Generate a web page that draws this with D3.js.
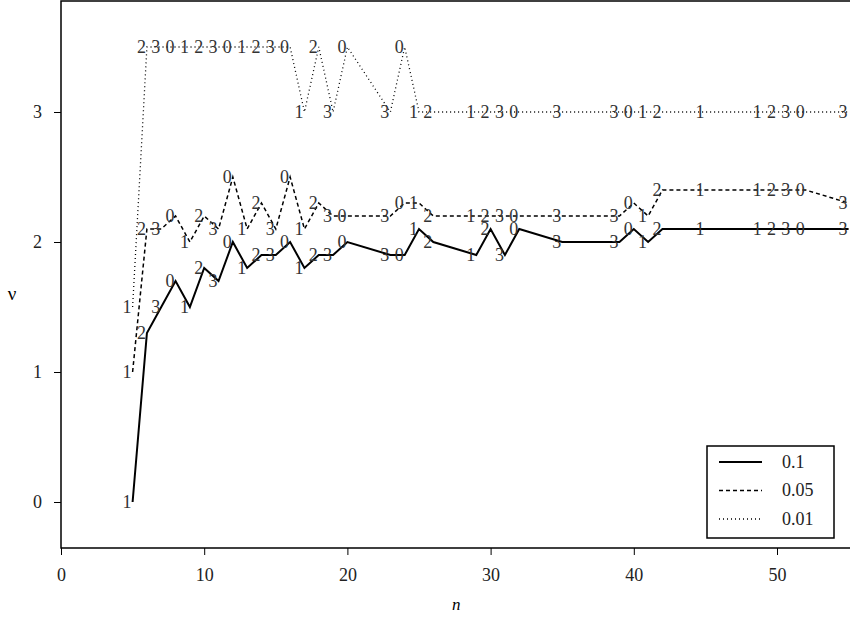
<!DOCTYPE html>
<html lang="en">
<head>
<meta charset="UTF-8">
<title>nu vs n</title>
<script src="https://d3js.org/d3.v7.min.js"></script>
<style>
  body { margin: 0; background: #fff; }
  svg text { font-family: "Liberation Serif", "Times New Roman", "DejaVu Serif", serif; }
</style>
</head>
<body>
<svg width="850" height="619"></svg>
<script>
// n values where the curves have a vertex (same for all three levels)
const nVals = [5, 6, 7, 8, 9, 10, 11, 12, 13, 14, 15, 16, 17, 18, 19, 20,
               23, 24, 25, 26, 29, 30, 31, 32, 35, 39, 40, 41, 42, 45, 49, 50, 51, 52, 55];

// nu for alpha = 0.1
const nu10 = [0, 1.3, 1.5, 1.7, 1.5, 1.8, 1.7, 2.0, 1.8, 1.9, 1.9, 2.0, 1.8, 1.9, 1.9, 2.0,
              1.9, 1.9, 2.1, 2.0, 1.9, 2.1, 1.9, 2.1, 2.0, 2.0, 2.1, 2.0, 2.1, 2.1, 2.1, 2.1, 2.1, 2.1, 2.1];
// nu for alpha = 0.05
const nu05 = [1.0, 2.1, 2.1, 2.2, 2.0, 2.2, 2.1, 2.5, 2.1, 2.3, 2.1, 2.5, 2.1, 2.3, 2.2, 2.2,
              2.2, 2.3, 2.3, 2.2, 2.2, 2.2, 2.2, 2.2, 2.2, 2.2, 2.3, 2.2, 2.4, 2.4, 2.4, 2.4, 2.4, 2.4, 2.3];
// nu for alpha = 0.01
const nu01 = [1.5, 3.5, 3.5, 3.5, 3.5, 3.5, 3.5, 3.5, 3.5, 3.5, 3.5, 3.5, 3.0, 3.5, 3.0, 3.5,
              3.0, 3.5, 3.0, 3.0, 3.0, 3.0, 3.0, 3.0, 3.0, 3.0, 3.0, 3.0, 3.0, 3.0, 3.0, 3.0, 3.0, 3.0, 3.0];

const seriesNames = ["0.1", "0.05", "0.01"];
const xTicks = [0, 10, 20, 30, 40, 50];
const yTicks = [0, 1, 2, 3];

const series = [
  { name: seriesNames[0], vals: nu10, width: 2, dash: null },
  { name: seriesNames[1], vals: nu05, width: 1.5, dash: "4,3" },
  { name: seriesNames[2], vals: nu01, width: 1.3, dash: "1,3" }
];

const FONT = "'Liberation Serif', 'Times New Roman', serif";
const svg = d3.select("svg");

const frame = { left: 61, top: 1, bottom: 548, right: 851 };

const x = d3.scaleLinear().domain([0, 50]).range([61, 777]);
const y = d3.scaleLinear().domain([0, 3]).range([502, 112]);

// frame (right side falls outside the picture)
svg.append("path")
  .attr("d", `M${frame.right},${frame.top}H${frame.left}V${frame.bottom}H${frame.right}`)
  .attr("fill", "none")
  .attr("stroke", "#000")
  .attr("stroke-width", 1.5);

// x axis ticks
const xAx = svg.append("g").attr("transform", `translate(0,${frame.bottom})`)
  .call(d3.axisBottom(x).tickValues(xTicks).tickFormat(d3.format("d")).tickSize(7).tickPadding(13));
xAx.select(".domain").remove();

// y axis ticks
const yAx = svg.append("g").attr("transform", `translate(${frame.left},0)`)
  .call(d3.axisLeft(y).tickValues(yTicks).tickFormat(d3.format("d")).tickSize(7).tickPadding(12));
yAx.select(".domain").remove();

svg.selectAll("g").attr("font-family", FONT);
svg.selectAll(".tick text")
  .attr("font-family", FONT)
  .attr("font-size", 18)
  .attr("fill", "#222");
svg.selectAll(".tick line").attr("stroke", "#000");

// axis titles
svg.append("text")
  .attr("x", x(27.6)).attr("y", 610)
  .attr("text-anchor", "middle")
  .attr("font-family", FONT)
  .attr("font-size", 17).attr("font-style", "italic")
  .text("n");

svg.append("text")
  .attr("x", 12).attr("y", 300)
  .attr("text-anchor", "middle")
  .attr("font-family", FONT)
  .attr("font-size", 19)
  .text("ν");

const line = d3.line()
  .x(d => x(d.n))
  .y(d => y(d.v));

series.forEach(s => {
  const pts = nVals.map((n, i) => ({ n: n, v: s.vals[i] }));
  svg.append("path")
    .datum(pts)
    .attr("d", line)
    .attr("fill", "none")
    .attr("stroke", "#000")
    .attr("stroke-width", s.width)
    .attr("stroke-dasharray", s.dash);

  // digit labels = n mod 4, placed to the left of each vertex
  svg.append("g").selectAll("text")
    .data(pts)
    .join("text")
    .attr("x", d => x(d.n) - 1)
    .attr("y", d => y(d.v))
    .attr("dy", "0.33em")
    .attr("text-anchor", "end")
    .attr("font-family", FONT)
    .attr("font-size", 18)
    .attr("fill", "#333")
    .text(d => d.n % 4);
});

// legend
const lg = svg.append("g");
lg.append("rect")
  .attr("x", 707).attr("y", 446)
  .attr("width", 127).attr("height", 92)
  .attr("fill", "#fff")
  .attr("stroke", "#000")
  .attr("stroke-width", 1.5);

series.forEach((s, i) => {
  const yy = 462 + i * 28.5;
  lg.append("line")
    .attr("x1", 719).attr("x2", 762)
    .attr("y1", yy).attr("y2", yy)
    .attr("stroke", "#000")
    .attr("stroke-width", s.width)
    .attr("stroke-dasharray", s.dash);
  lg.append("text")
    .attr("x", 782).attr("y", yy)
    .attr("dy", "0.33em")
    .attr("font-family", FONT)
    .attr("font-size", 18)
    .attr("fill", "#222")
    .text(s.name);
});
</script>
</body>
</html>
